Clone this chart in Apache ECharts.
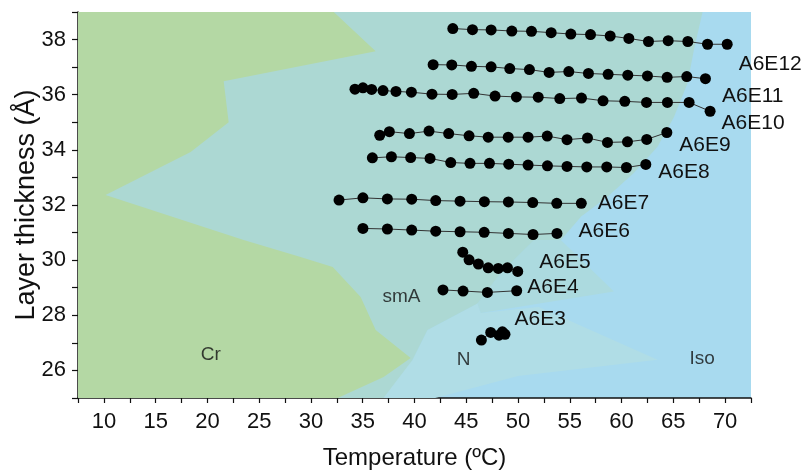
<!DOCTYPE html>
<html>
<head>
<meta charset="utf-8">
<script src="https://cdn.jsdelivr.net/npm/echarts@6/dist/echarts.min.js"></script>
<style>
html,body{margin:0;padding:0;background:#ffffff;}
#chart{width:807px;height:470px;}
</style>
</head>
<body>
<div id="chart"></div>
<script>
// ---- Data ----
const seriesNames = ['A6E12','A6E11','A6E10','A6E9','A6E8','A6E7','A6E6','A6E5','A6E4','A6E3'];
const A6E12_T = [43.7,45.6,47.4,49.4,51.3,53.2,55.1,57.0,58.9,60.7,62.6,64.5,66.4,68.3,70.2];
const A6E12_d = [38.40,38.36,38.35,38.31,38.30,38.25,38.20,38.18,38.13,38.04,37.93,37.96,37.93,37.83,37.83];
const A6E11_T = [41.8,43.6,45.5,47.4,49.2,51.1,53.0,54.9,56.8,58.7,60.6,62.5,64.4,66.3,68.1];
const A6E11_d = [37.09,37.08,37.03,37.01,36.95,36.91,36.81,36.84,36.77,36.74,36.71,36.68,36.63,36.66,36.58];
const A6E10_T = [34.25,35.02,35.86,36.96,38.21,39.70,41.69,43.64,45.72,47.78,49.84,51.95,54.03,56.13,58.21,60.31,62.41,64.43,66.52,68.55];
const A6E10_d = [36.20,36.25,36.19,36.15,36.12,36.09,36.02,36.01,36.05,35.95,35.92,35.91,35.86,35.88,35.78,35.76,35.72,35.72,35.72,35.40];
const A6E9_T = [36.64,37.57,39.51,41.40,43.30,45.27,47.12,49.05,50.97,52.82,54.73,56.71,58.64,60.57,62.43,64.37];
const A6E9_d = [34.53,34.66,34.59,34.68,34.59,34.51,34.46,34.46,34.46,34.50,34.37,34.43,34.27,34.29,34.38,34.63];
const A6E8_T = [35.93,37.77,39.63,41.50,43.50,45.36,47.24,49.10,50.97,52.84,54.73,56.64,58.57,60.47,62.34];
const A6E8_d = [33.71,33.75,33.72,33.69,33.54,33.51,33.51,33.48,33.45,33.42,33.40,33.38,33.38,33.36,33.47];
const A6E7_T = [32.71,35.02,37.38,39.73,42.05,44.40,46.75,49.07,51.42,53.74,56.11];
const A6E7_d = [32.18,32.26,32.22,32.21,32.16,32.14,32.12,32.11,32.09,32.06,32.06];
const A6E6_T = [35.02,37.38,39.73,42.05,44.40,46.73,49.07,51.45,53.76];
const A6E6_d = [31.15,31.13,31.09,31.05,31.03,31.01,30.97,30.93,30.97];
const A6E5_T = [44.66,45.27,46.17,47.12,48.09,48.98,49.97];
const A6E5_d = [30.29,30.01,29.86,29.72,29.70,29.72,29.59];
const A6E4_T = [42.75,44.69,47.04,49.87];
const A6E4_d = [28.92,28.88,28.83,28.89];
const A6E3_T = [46.46,47.36,48.16,48.49,48.74];
const A6E3_d = [27.10,27.38,27.28,27.40,27.31];

// phase region boundaries (data coordinates: temperature, layer thickness)
const regionCr = [[7.5,25],[7.5,39],[32.2,39],[36.25,37.58],[21.57,36.49],[22.05,35.0],[18.38,33.92],[10.16,32.36],[23.5,30.73],[29.0,30.11],[32.1,29.75],[34.8,28.66],[36.25,27.47],[39.63,26.45],[37.02,25.76],[32.58,25]];
const regionSmA = [[7.5,39],[67.82,39],[66.98,37.61],[66.37,36.42],[65.05,35.18],[63.47,34.11],[61.18,33.16],[58.64,32.30],[56.06,31.57],[54.13,30.73],[51.55,30.73],[48.33,29.53],[46.08,28.43],[41.25,27.47],[39.8,26.38],[37,25],[7.5,25]];
const regionMid = [[56.06,31.57],[54.13,30.73],[59.26,28.86],[46.4,28.08],[46.08,28.43],[48.33,29.53],[51.55,30.73]];
const regionN = [[36,25],[39.8,26.38],[41.25,27.47],[46.08,28.43],[46.4,28.08],[52,28.3],[63.47,26.39],[50,25.8],[42,25]];

const phaseNames = ['Cr','smA','N','Iso'];
const phaseT = [20.33,38.74,44.75,67.78];
const phaseD = [26.55,28.68,26.37,26.43];

const xTicks = [10,15,20,25,30,35,40,45,50,55,60,65,70];
const yTicks = [26,28,30,32,34,36,38];

// label offsets (style)
const labelOffsets = {
  A6E12:[6,20], A6E11:[11,17], A6E10:[6,12], A6E9:[7,13], A6E8:[7,8],
  A6E7:[11,0], A6E6:[16,-2], A6E5:[16,-9], A6E4:[5,-4], A6E3:[4,-15]
};

const dataMap = {
  A6E12:[A6E12_T,A6E12_d], A6E11:[A6E11_T,A6E11_d], A6E10:[A6E10_T,A6E10_d],
  A6E9:[A6E9_T,A6E9_d], A6E8:[A6E8_T,A6E8_d], A6E7:[A6E7_T,A6E7_d],
  A6E6:[A6E6_T,A6E6_d], A6E5:[A6E5_T,A6E5_d], A6E4:[A6E4_T,A6E4_d], A6E3:[A6E3_T,A6E3_d]
};

const FONT = '"Liberation Sans", Arial, Helvetica, sans-serif';

function regionSeries(name, pts, color, z) {
  return {
    name: name, type: 'custom', silent: true, z: z,
    coordinateSystem: 'cartesian2d',
    data: [0],
    renderItem: function (params, api) {
      const points = pts.map(p => api.coord(p));
      return {
        type: 'polygon',
        shape: { points: points },
        style: { fill: color, stroke: null }
      };
    },
    clip: true
  };
}

const series = [
  regionSeries('N', regionN, '#b0dde6', 1),
  regionSeries('mid', regionMid, '#acdadf', 1),
  regionSeries('smA', regionSmA, '#acd8d3', 2),
  regionSeries('Cr', regionCr, '#b4d8a4', 3)
];

seriesNames.forEach(function (n) {
  const T = dataMap[n][0], d = dataMap[n][1];
  const pts = T.map(function (t, i) {
    const item = { value: [t, d[i]] };
    if (i === T.length - 1) {
      item.label = {
        show: true, formatter: n, position: 'right', distance: 0,
        offset: labelOffsets[n], color: '#111', fontSize: 21, fontFamily: FONT
      };
    }
    return item;
  });
  series.push({
    name: n, type: 'line', data: pts, z: 10,
    symbol: 'circle', symbolSize: 11,
    itemStyle: { color: '#000' },
    lineStyle: { color: '#333', width: 1 },
    label: { show: false },
    animation: false
  });
});

series.push({
  name: 'phases', type: 'scatter', z: 9, symbolSize: 0,
  data: phaseNames.map((p, i) => ({ value: [phaseT[i], phaseD[i]], name: p })),
  label: { show: true, position: 'inside', formatter: '{b}', color: '#111', fontSize: 19, fontFamily: FONT },
  silent: true
});

const chart = echarts.init(document.getElementById('chart'), null, { renderer: 'canvas' });
chart.setOption({
  animation: false,
  backgroundColor: '#ffffff',
  grid: {
    left: 78, right: 56, top: 12, bottom: 72, show: true, backgroundColor: '#a8daef', borderWidth: 0,
    containLabel: false, outerBoundsMode: 'none'
  },
  xAxis: {
    type: 'value', min: 7.5, max: 72.5, interval: 2.5,
    name: 'Temperature (ºC)', nameLocation: 'middle', nameGap: 48, nameMoveOverlap: false,
    nameTextStyle: { fontSize: 24, color: '#111', fontFamily: FONT },
    axisLine: { show: true, lineStyle: { color: '#111', width: 1.5 } },
    axisTick: { show: true, inside: false, length: 5, lineStyle: { color: '#111', width: 1.2 } },
    axisLabel: {
      fontSize: 22, color: '#111', fontFamily: FONT, margin: 13,
      formatter: function (v) { return xTicks.indexOf(v) >= 0 ? String(v) : ''; }
    },
    splitLine: { show: false }
  },
  yAxis: {
    type: 'value', min: 25, max: 39, interval: 1,
    name: 'Layer thickness (Å)', nameLocation: 'middle', nameGap: 38, nameRotate: 90, nameMoveOverlap: false,
    nameTextStyle: { fontSize: 27, color: '#111', fontFamily: FONT },
    axisLine: { show: true, lineStyle: { color: '#111', width: 1.5 } },
    axisTick: { show: true, inside: false, length: 6, lineStyle: { color: '#111', width: 1.2 } },
    axisLabel: {
      fontSize: 22, color: '#111', fontFamily: FONT, margin: 12,
      formatter: function (v) { return yTicks.indexOf(v) >= 0 ? String(v) : ''; }
    },
    splitLine: { show: false }
  },
  series: series
});
</script>
</body>
</html>
